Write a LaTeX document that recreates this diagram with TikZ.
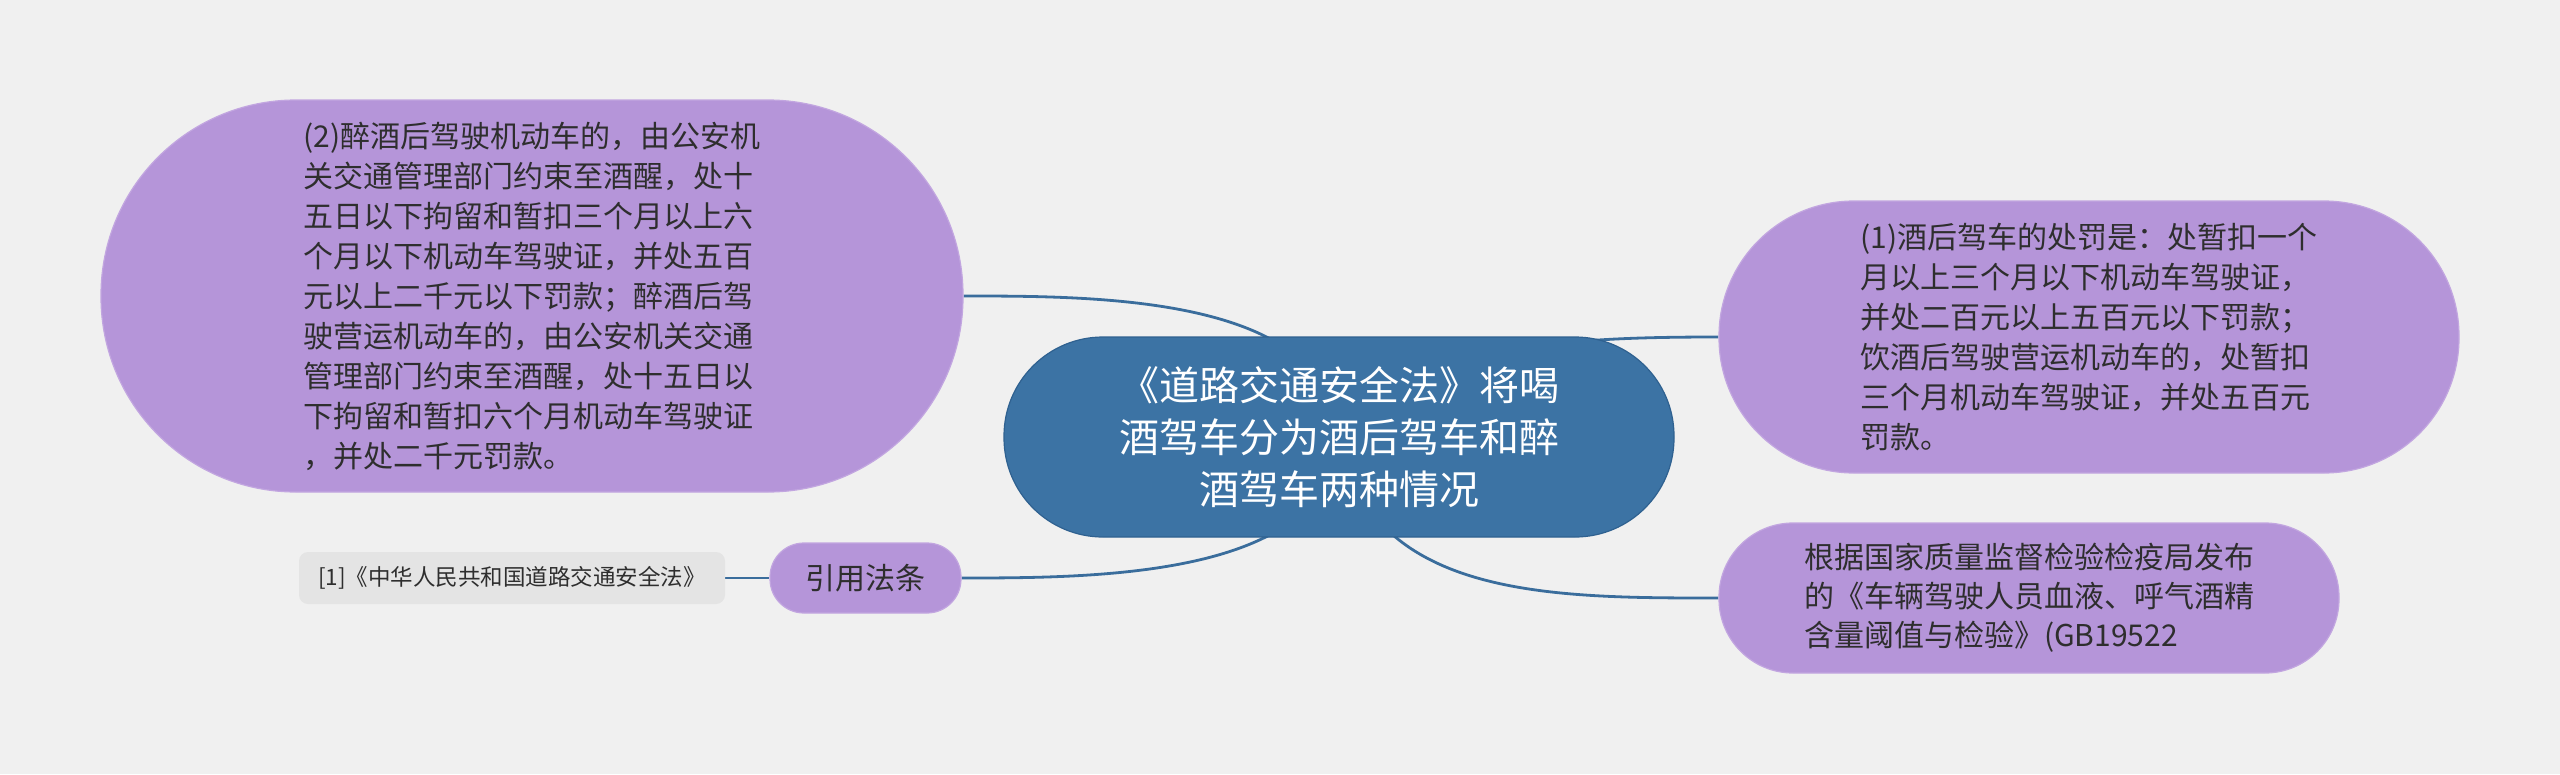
\documentclass[tikz,border=0pt]{standalone}
\usepackage{fontspec}
\setmainfont{Noto Sans CJK SC}
\definecolor{bgc}{HTML}{F0F0F0}
\definecolor{leaf}{HTML}{B595D9}
\definecolor{leafborder}{HTML}{C2A6E0}
\definecolor{rootc}{HTML}{3C73A4}
\definecolor{rootborder}{HTML}{2F6190}
\definecolor{linkc}{HTML}{3A6D9C}
\definecolor{txt}{HTML}{2E2E2E}
\definecolor{refc}{HTML}{E4E4E4}
\pgfdeclarelayer{bg}
\pgfsetlayers{bg,main}
\begin{document}
\begin{tikzpicture}[x=1pt,y=-1pt,
  leafnode/.style={draw=leafborder, line width=1.2pt, fill=leaf, text=txt, inner sep=0pt, align=left,
    font=\fontsize{30}{40}\selectfont},
  rootnode/.style={draw=rootborder, line width=1.2pt, fill=rootc, text=white, inner sep=0pt, align=center,
    font=\fontsize{40}{52}\selectfont},
  refnode/.style={fill=refc, text=txt, inner sep=0pt, rounded corners=9pt,
    font=\fontsize{22.5}{28}\selectfont},
  link/.style={draw=linkc, line width=2.8pt}
]
\useasboundingbox (0,0) rectangle (2560,774);

\node[rootnode, minimum width=670pt, minimum height=200pt, rounded corners=99pt] (c) at (1339,437)
  {《道路交通安全法》将喝\\酒驾车分为酒后驾车和醉\\酒驾车两种情况};

\node[leafnode, minimum width=862pt, minimum height=392pt, rounded corners=195pt] (lt) at (532,296)
  {(2)醉酒后驾驶机动车的，由公安机\\关交通管理部门约束至酒醒，处十\\五日以下拘留和暂扣三个月以上六\\个月以下机动车驾驶证，并处五百\\元以上二千元以下罚款；醉酒后驾\\驶营运机动车的，由公安机关交通\\管理部门约束至酒醒，处十五日以\\下拘留和暂扣六个月机动车驾驶证\\，并处二千元罚款。};

\node[leafnode, minimum width=740pt, minimum height=272pt, rounded corners=135pt] (rt) at (2089,337)
  {(1)酒后驾车的处罚是：处暂扣一个\\月以上三个月以下机动车驾驶证，\\并处二百元以上五百元以下罚款；\\饮酒后驾驶营运机动车的，处暂扣\\三个月机动车驾驶证，并处五百元\\罚款。};

\node[leafnode, minimum width=620pt, minimum height=150pt, rounded corners=74pt,
  font=\fontsize{30}{39}\selectfont] (rb) at (2029,598)
  {根据国家质量监督检验检疫局发布\\的《车辆驾驶人员血液、呼气酒精\\含量阈值与检验》(GB19522};

\node[leafnode, minimum width=191pt, minimum height=70pt, rounded corners=34pt, align=center] (cite) at (865.5,578)
  {引用法条};

\node[refnode, minimum width=426pt, minimum height=52pt] (ref) at (512,578)
  {[1]《中华人民共和国道路交通安全法》};

\begin{pgfonlayer}{bg}
\fill[bgc] (0,0) rectangle (2560,774);
\draw[link] (c.center) .. controls +(-9,-141) and +(137,0) .. (lt.east);
\draw[link] (c.center) .. controls +(-9,140) and +(139,0) .. (cite.east);
\draw[link] (c.center) .. controls +(81,-92) and +(-159,0) .. (rt.west);
\draw[link] (c.center) .. controls +(31,161) and +(-169,0) .. (rb.west);
\draw[link] (ref.east) -- (cite.west);
\end{pgfonlayer}
\end{tikzpicture}
\end{document}
